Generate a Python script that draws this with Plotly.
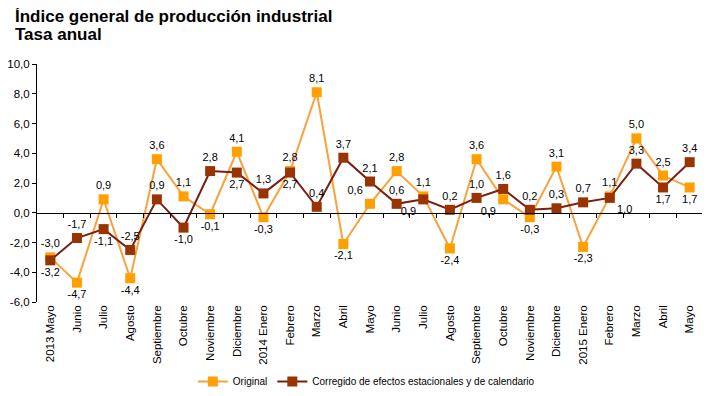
import plotly.graph_objects as go

categories = ["2013 Mayo", "Junio", "Julio", "Agosto", "Septiembre", "Octubre", "Noviembre",
              "Diciembre", "2014 Enero", "Febrero", "Marzo", "Abril", "Mayo", "Junio", "Julio",
              "Agosto", "Septiembre", "Octubre", "Noviembre", "Diciembre", "2015 Enero",
              "Febrero", "Marzo", "Abril", "Mayo"]
original = [-3.0, -4.7, 0.9, -4.4, 3.6, 1.1, -0.1, 4.1, -0.3, 2.8, 8.1, -2.1, 0.6, 2.8, 1.1,
            -2.4, 3.6, 0.9, -0.3, 3.1, -2.3, 1.1, 5.0, 2.5, 1.7]
corregido = [-3.2, -1.7, -1.1, -2.5, 0.9, -1.0, 2.8, 2.7, 1.3, 2.7, 0.4, 3.7, 2.1, 0.6, 0.9,
             0.2, 1.0, 1.6, 0.2, 0.3, 0.7, 1.0, 3.3, 1.7, 3.4]
pos_original = ["top center", "bottom center", "top center", "bottom center", "top center",
                "top center", "bottom center", "top center", "bottom center", "top center",
                "top center", "bottom center", "top left", "top center", "top center",
                "bottom center", "top center", "bottom left", "bottom center", "top center",
                "bottom center", "top center", "top center", "top center", "bottom center"]
pos_corregido = ["bottom center", "top center", "bottom center", "top center", "top center",
                 "bottom center", "top center", "bottom center", "top center", "bottom center",
                 "top center", "top center", "top center", "top center", "bottom left",
                 "top center", "top center", "top center", "top center", "top center",
                 "top center", "bottom right", "top center", "bottom center", "top center"]
y_ticks = [10, 8, 6, 4, 2, 0, -2, -4, -6]
title_lines = ["Índice general de producción industrial", "Tasa anual"]

x = list(range(len(categories)))

def fmt(v):
    return f"{v:.1f}".replace(".", ",")

FONT = "Liberation Sans, Arial"

fig = go.Figure()
fig.add_trace(go.Scatter(
    x=x, y=original, name="Original", mode="lines+markers+text",
    line=dict(color="#F9A23B", width=2),
    marker=dict(symbol="square", size=10, color="#FFA000"),
    text=[fmt(v) for v in original], textposition=pos_original,
    textfont=dict(family=FONT, size=11, color="#000000"),
    cliponaxis=False,
))
fig.add_trace(go.Scatter(
    x=x, y=corregido, name="Corregido de efectos estacionales y de calendario",
    mode="lines+markers+text",
    line=dict(color="#7A1E12", width=2),
    marker=dict(symbol="square", size=10, color="#993300"),
    text=[fmt(v) for v in corregido], textposition=pos_corregido,
    textfont=dict(family=FONT, size=11, color="#000000"),
    cliponaxis=False,
))
# invisible trace carrying the zero-line axis with its tick marks
fig.add_trace(go.Scatter(x=x, y=[0] * len(x), xaxis="x2", mode="lines",
                         line=dict(width=0), showlegend=False, hoverinfo="skip"))

ymin, ymax = -6, 10
# page body has an 8px default margin, so the figure is 8px smaller
fig.update_layout(
    width=702, height=388,
    margin=dict(l=29, r=7, t=56, b=94, autoexpand=False),
    paper_bgcolor="white", plot_bgcolor="white",
    separators=",.",
    font=dict(family=FONT, size=11, color="#000000"),
    showlegend=True,
    legend=dict(orientation="h", x=0.234, xanchor="left", y=-0.273, yanchor="top",
                font=dict(size=10), traceorder="normal"),
    xaxis=dict(
        range=[-0.5, len(categories) - 0.5], tickmode="array", tickvals=x,
        ticktext=categories, tickangle=-90, showline=False, ticks="",
        showgrid=False, zeroline=False, tickfont=dict(size=11.5),
    ),
    xaxis2=dict(
        range=[-0.5, len(categories) - 0.5], overlaying="x", anchor="free",
        position=(0 - ymin) / (ymax - ymin), side="bottom",
        tickmode="array", tickvals=[i + 0.5 for i in x[:-1]],
        showticklabels=False, ticks="outside", ticklen=4, tickcolor="#000000",
        showline=True, linecolor="#000000", linewidth=1, showgrid=False, zeroline=False,
    ),
    yaxis=dict(
        range=[ymin, ymax], tickmode="array", tickvals=y_ticks,
        ticktext=[fmt(v) for v in y_ticks], showline=True, linecolor="#000000",
        linewidth=1, ticks="outside", ticklen=4, tickcolor="#000000",
        showgrid=False, zeroline=False, tickfont=dict(size=11.5),
    ),
    annotations=[
        dict(text=f"<b>{title_lines[0]}</b>", xref="paper", yref="paper",
             x=-29 / 666 + 5 / 666, y=1 + 48 / 238, xanchor="left", yanchor="middle",
             showarrow=False, font=dict(family=FONT, size=17, color="#000000")),
        dict(text=f"<b>{title_lines[1]}</b>", xref="paper", yref="paper",
             x=-29 / 666 + 5 / 666, y=1 + 29 / 238, xanchor="left", yanchor="middle",
             showarrow=False, font=dict(family=FONT, size=17, color="#000000")),
    ],
)

fig.write_html("out.html")
